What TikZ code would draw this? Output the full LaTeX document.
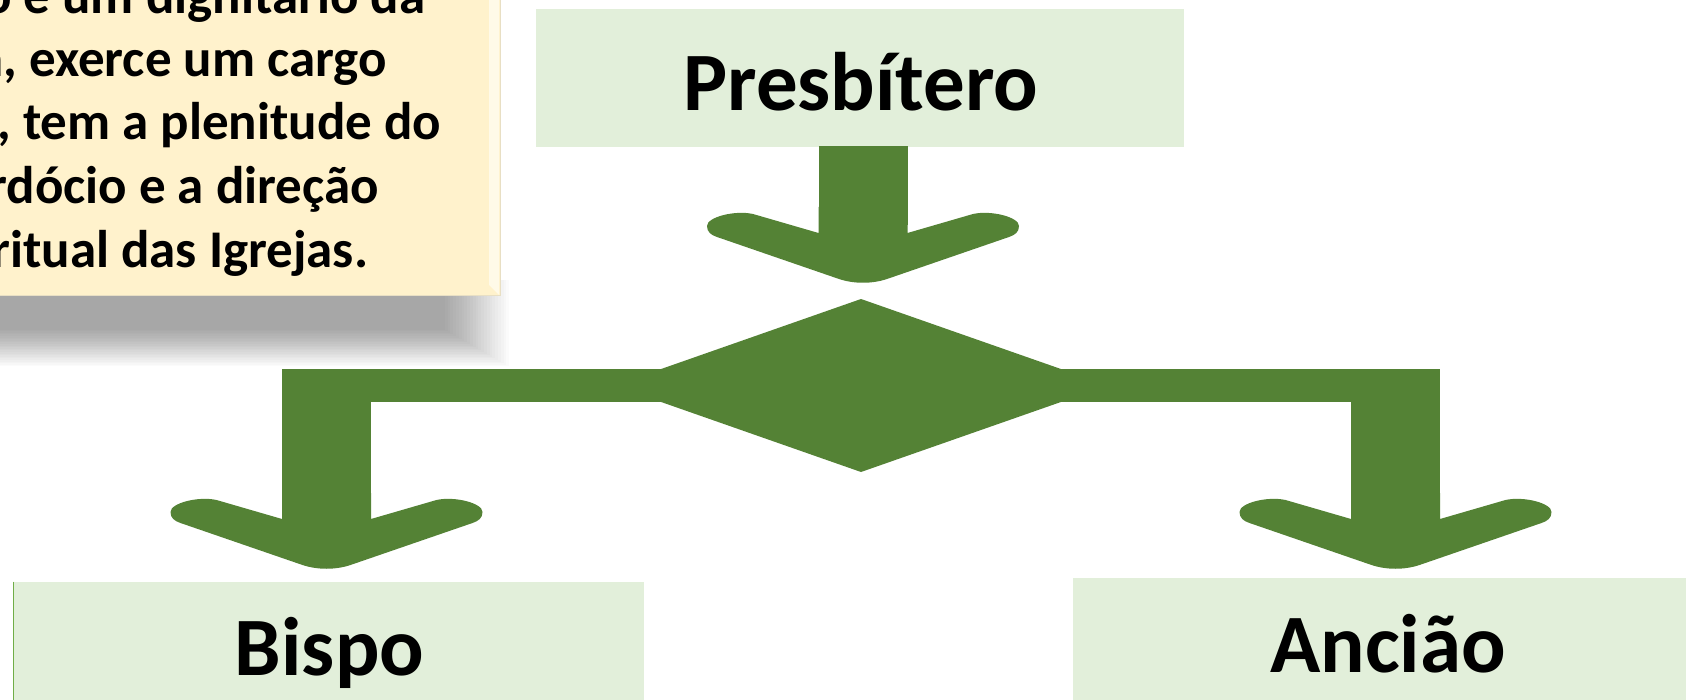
\documentclass[tikz,border=0pt]{standalone}
\usepackage{fontspec}
\setmainfont{Carlito}
\usepackage{tikz}
\usetikzlibrary{calc,positioning}

\definecolor{leafgreen}{HTML}{548235}
\definecolor{palegreen}{HTML}{E2EFDA}
\definecolor{edgegreen}{HTML}{70AD47}
\definecolor{paleyellow}{HTML}{FFF2CC}
\definecolor{bevelyellow}{HTML}{FFFAE8}
\definecolor{bevelline}{HTML}{E8DFC4}

\tikzset{
    greenbox/.style={fill=palegreen, inner sep=0pt},
    bigword/.style={font=\bfseries\fontsize{41.5pt}{50pt}\selectfont, inner sep=0pt, anchor=base},
    noteline/.style={font=\bfseries\fontsize{26.5pt}{32pt}\selectfont, inner sep=0pt, anchor=base west},
    downhead/.pic={
        \fill[leafgreen] (-44.5,-20) -- (-44.5,6) -- (-110,-13)
            .. controls (-128,-17) and (-156,-10) .. (-156,-1)
            .. controls (-156,5) and (-152,8) .. (-146,10) -- (-24,52)
            .. controls (-9,57) and (9,57) .. (24,52) -- (146,10)
            .. controls (152,8) and (156,5) .. (156,-1)
            .. controls (156,-10) and (128,-17) .. (110,-13)
            -- (44.5,6) -- (44.5,-20) -- cycle;
    }
}

\begin{document}
\begin{tikzpicture}[x=0.5pt, y=-0.5pt]
    \clip (0,0) rectangle (1686,700);
    \fill[white] (0,0) rectangle (1686,700);

    % note with its shadow
    \foreach \i in {1,...,24}
        \fill[black, opacity=0.014] (-50,280) rectangle ({512-2.8*\i},{368-1.6*\i});
    \fill[paleyellow] (-50,-50) rectangle (500,295);
    \fill[bevelyellow] (489,-50) -- (499,-50) -- (499,295) -- (489,285) -- cycle;
    \draw[bevelline, line width=0.4pt] (500,-50) -- (500,295) -- (-50,295);
    \node[noteline] (note1) at (-17,14) {o é um dignitário da};
    \node[noteline] (note2) at (-23,77) {a, exerce um cargo};
    \node[noteline] (note3) at (-3,140) {, tem a plenitude do};
    \node[noteline] (note4) at (-12,204) {rdócio e a direção};
    \node[noteline] (note5) at (-9,268) {ritual das Igrejas.};

    % boxes
    \node[greenbox, minimum width=324pt, minimum height=69pt] (presb) at (860,78) {};
    \node[greenbox, minimum width=315pt, minimum height=69pt] (bispo) at (329,651) {};
    \node[greenbox, minimum width=323.5pt, minimum height=71pt] (anciao) at (1396.5,649) {};
    \draw[edgegreen, line width=0.8pt] (bispo.north west) -- (bispo.south west);
    \node[bigword] (presblabel) at (861,111) {Presbítero};
    \node[bigword] (bispolabel) at (329.5,675) {Bispo};
    \node[bigword] (anciaolabel) at (1388,672) {Ancião};

    % arrows
    \fill[leafgreen] (818.5,146) rectangle (907.5,225);
    \pic at (863,227) {downhead};
    \fill[leafgreen] (282,369) rectangle (1440,402);
    \fill[leafgreen] (282,369) rectangle (371,510);
    \fill[leafgreen] (1351,369) rectangle (1440,510);
    \fill[leafgreen] (614,385.5) -- (861,299) -- (1108,385.5) -- (861,472) -- cycle;
    \pic at (326.5,513) {downhead};
    \pic at (1395.5,513) {downhead};
\end{tikzpicture}
\end{document}
